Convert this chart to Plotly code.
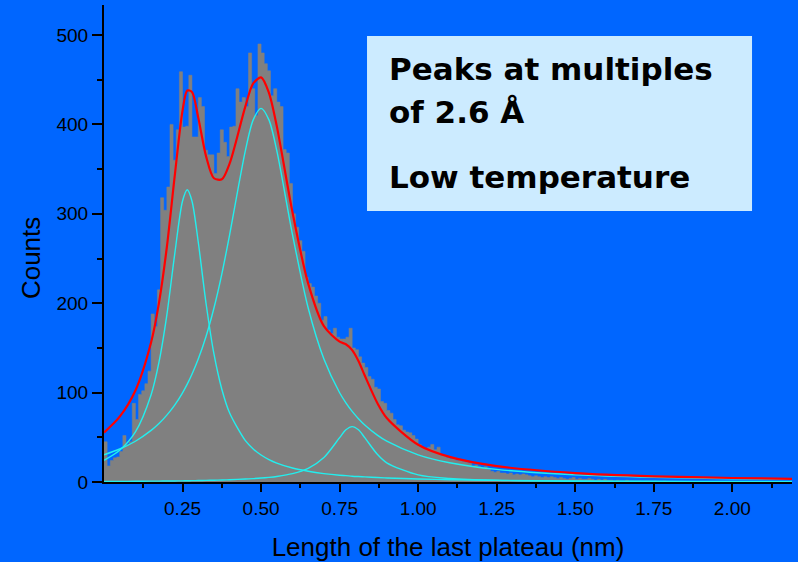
import plotly.graph_objects as go

# ---------------- data ----------------
bin_width = 0.01
hist_counts = [
    45, 18, 24, 27, 28, 34, 52, 42, 45, 88,
    70, 98, 102, 110, 124, 188, 174, 215, 318, 304,
    330, 400, 360, 394, 459, 397, 398, 455, 386, 386,
    430, 420, 371, 366, 366, 345, 368, 394, 380, 364,
    397, 398, 440, 425, 430, 420, 480, 440, 410, 490,
    480, 468, 460, 432, 440, 425, 420, 372, 368, 334,
    300, 285, 270, 258, 229, 222, 218, 208, 200, 181,
    185, 170, 166, 172, 162, 160, 160, 162, 172, 150,
    148, 140, 133, 128, 118, 115, 106, 104, 90, 88,
    80, 77, 70, 64, 63, 58, 56, 55, 52, 48,
    42, 38, 37, 39, 42, 36, 39, 30, 29, 27,
    26, 27, 24, 25, 23, 22, 21, 18, 19, 17,
    16, 17, 14, 12, 11, 12, 10, 10, 9, 10,
    8, 9, 8, 9, 8, 7, 6, 7, 6, 5,
    6, 5, 6, 5, 4, 5, 4, 3, 4, 5,
    3, 4, 3, 3, 4, 3, 2, 3, 2, 3,
    2, 2, 1, 2, 1, 1, 2, 1, 1, 1,
    1, 0, 1, 1, 0, 1, 0, 0, 1, 0,
]
bin_edges = [round(i * bin_width, 4) for i in range(len(hist_counts) + 1)]

fit_x = [0, 0.05, 0.1, 0.15, 0.175, 0.2, 0.225, 0.25, 0.265, 0.28, 0.3, 0.325, 0.35,
         0.375, 0.4, 0.45, 0.475, 0.5, 0.525, 0.55, 0.6, 0.65, 0.7, 0.75, 0.77, 0.79,
         0.81, 0.83, 0.87, 0.9, 1.0, 1.1, 1.25, 1.5, 1.75, 2.0, 2.19]
peak1 = [24.3, 35.5, 56.0, 97.6, 134.0, 186.7, 254.6, 314.4, 327.0, 314.4, 268.5, 199.4, 143.2,
         103.8, 77.1, 46.2, 37.0, 30.2, 25.1, 21.2, 15.6, 12.0, 9.4, 7.6, 7.1, 6.5,
         6.1, 5.7, 5.0, 4.5, 3.4, 2.6, 1.9, 1.2, 0.8, 0.6, 0.5]
peak2 = [30.4, 36.9, 45.6, 57.7, 65.4, 74.8, 86.0, 99.8, 109.5, 120.5, 137.5, 163.1, 194.6,
         232.6, 276.8, 370.7, 405.1, 418.0, 405.1, 370.7, 276.8, 194.6, 137.5, 99.8, 88.6, 79.0,
         70.8, 63.8, 52.4, 45.6, 30.4, 21.6, 14.1, 8.0, 5.2, 3.6, 2.9]
peak3 = [0.6, 0.7, 0.8, 1.0, 1.0, 1.1, 1.2, 1.3, 1.4, 1.5, 1.6, 1.8, 2.0,
         2.2, 2.5, 3.3, 3.8, 4.4, 5.2, 6.2, 9.3, 15.3, 27.4, 49.6, 58.4, 62.0,
         58.4, 49.6, 31.0, 21.5, 7.9, 3.9, 1.8, 0.8, 0.4, 0.3, 0.2]
total_fit = [55.3, 73.1, 102.4, 156.3, 200.4, 262.6, 341.8, 415.5, 437.9, 436.4, 407.6, 364.3, 339.8,
             338.6, 356.4, 420.2, 445.9, 452.6, 435.4, 398.1, 301.7, 221.9, 174.3, 157.0, 154.1, 147.5,
             135.3, 119.1, 88.4, 71.6, 41.7, 28.1, 17.8, 10.0, 6.4, 4.5, 3.6]

x_tick_vals = [0.25, 0.5, 0.75, 1.0, 1.25, 1.5, 1.75, 2.0]
x_tick_text = ["0.25", "0.50", "0.75", "1.00", "1.25", "1.50", "1.75", "2.00"]
x_minor_vals = [0.125, 0.375, 0.625, 0.875, 1.125, 1.375, 1.625, 1.875, 2.125]
y_tick_vals = [0, 100, 200, 300, 400, 500]
y_minor_vals = [50, 150, 250, 350, 450]

# ---------------- styles ----------------
BG = "#0066FF"
GRAY = "#808080"
RED = "#FF0000"
CYAN = "#22EEEE"
AXFONT = "Liberation Sans, Arial, sans-serif"

fig = go.Figure()
# histogram drawn as a stepped filled area (no seams between bins)
fig.add_trace(go.Scatter(x=bin_edges, y=hist_counts + [hist_counts[-1]], mode="lines",
                         line=dict(color=GRAY, width=0.5, shape="hv"),
                         fill="tozeroy", fillcolor=GRAY, hoverinfo="skip"))
for comp in (peak1, peak2, peak3):
    fig.add_trace(go.Scatter(x=fit_x, y=comp, mode="lines",
                             line=dict(color=CYAN, width=1.4, shape="spline", smoothing=0.8)))
fig.add_trace(go.Scatter(x=fit_x, y=total_fit, mode="lines",
                         line=dict(color=RED, width=2.2, shape="spline", smoothing=0.8)))

fig.update_layout(
    width=798, height=562,
    margin=dict(l=104, r=6, t=5, b=80),
    paper_bgcolor=BG, plot_bgcolor=BG,
    showlegend=False,
    font=dict(family=AXFONT, color="black"),
)
fig.update_xaxes(
    range=[0, 2.19], showgrid=False, zeroline=False,
    showline=True, linecolor="black", linewidth=2,
    tickvals=x_tick_vals, ticktext=x_tick_text,
    ticks="outside", ticklen=8, tickwidth=1.5, tickcolor="black",
    minor=dict(tickvals=x_minor_vals, ticks="outside", ticklen=4, tickwidth=1.5, tickcolor="black"),
    tickfont=dict(size=19, family=AXFONT, color="black"),
    title=dict(text="Length of the last plateau (nm)", font=dict(size=26, family=AXFONT, color="black"), standoff=21),
)
fig.update_yaxes(
    range=[0, 533.6], showgrid=False, zeroline=False,
    showline=True, linecolor="black", linewidth=2,
    tickvals=y_tick_vals,
    ticks="outside", ticklen=10, tickwidth=1.5, tickcolor="black",
    minor=dict(tickvals=y_minor_vals, ticks="outside", ticklen=5, tickwidth=1.5, tickcolor="black"),
    tickfont=dict(size=19, family=AXFONT, color="black"),
)

# y-axis title placed slightly below the plot-area centre, as in the original
fig.add_annotation(xref="paper", yref="paper", x=-0.106, y=0.4696, text="Counts",
                   textangle=-90, showarrow=False, xanchor="center", yanchor="middle",
                   font=dict(size=26, family=AXFONT, color="black"))

fig.add_shape(type="rect", xref="paper", yref="paper",
              x0=0.3823, x1=0.9419, y0=0.5681, y1=0.935,
              fillcolor="#CCEBFF", line=dict(width=0), layer="above")

box_font = dict(family="DejaVu Sans, Verdana, sans-serif", size=31, color="black")
for text, yy in (("<b>Peaks at multiples</b>", 0.8658),
                 ("<b>of 2.6 Å</b>", 0.7757),
                 ("<b>Low temperature</b>", 0.6394)):
    fig.add_annotation(xref="paper", yref="paper", x=0.4113, y=yy, text=text,
                       showarrow=False, xanchor="left", yanchor="middle", font=box_font)

fig.write_html("out.html")
